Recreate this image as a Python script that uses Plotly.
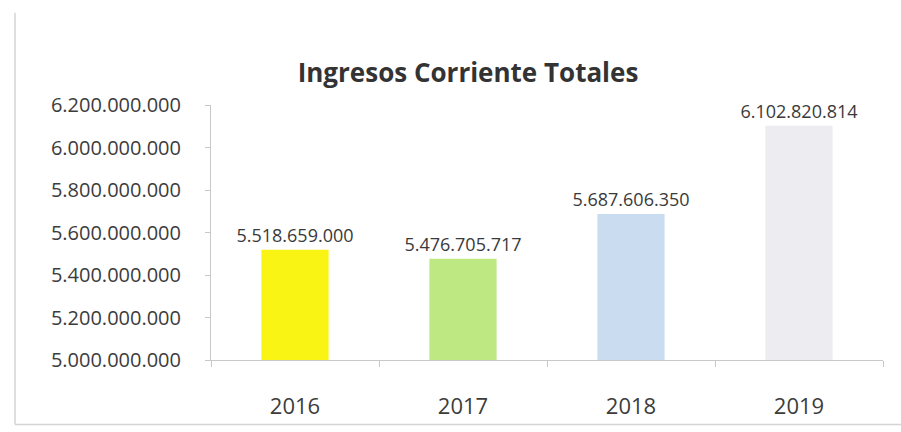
import plotly.graph_objects as go

# Ingresos corrientes totales por año
years = ["2016", "2017", "2018", "2019"]
ingresos = [5518659000, 5476705717, 5687606350, 6102820814]
bar_colors = ["#f9f414", "#bde882", "#cadcf0", "#ececf1"]
y_ticks = [5000000000, 5200000000, 5400000000, 5600000000, 5800000000, 6000000000, 6200000000]

FONT = "Open Sans, Liberation Sans, Arial, sans-serif"

W, H = 901, 432
ml, mr, mt, mb = 211, 18, 105, 70
pw, ph = W - ml - mr, H - mt - mb

fig = go.Figure(
    go.Bar(
        x=years,
        y=ingresos,
        marker=dict(color=bar_colors, line=dict(width=0)),
        width=0.4,
        texttemplate="%{y:,.0f}",
        textposition="outside",
        constraintext="none",
        cliponaxis=False,
        textfont=dict(family=FONT, size=18, color="#3a3a3a"),
    )
)

# light frame of the chart area (left and bottom edges)
def px_x(x):
    return (x - ml) / pw

def px_y(y):
    return (H - mb - y) / ph

for x0, y0, x1, y1 in [(15, 12, 15, 427), (15, 427, 901, 427)]:
    fig.add_shape(
        type="line", xref="paper", yref="paper",
        x0=px_x(x0), y0=px_y(y0), x1=px_x(x1), y1=px_y(y1),
        line=dict(color="#d4d4d4", width=1.5),
    )

fig.update_layout(
    width=W,
    height=H,
    margin=dict(l=ml, r=mr, t=mt, b=mb),
    paper_bgcolor="white",
    plot_bgcolor="white",
    separators=",.",
    showlegend=False,
    title=dict(
        text="<b>Ingresos Corriente Totales</b>",
        x=468 / W,
        xanchor="center",
        y=1 - 73 / H,
        yanchor="middle",
        font=dict(family=FONT, size=26, color="#333333"),
    ),
    bargap=0.6,
)

fig.update_yaxes(
    range=[5000000000, 6200000000],
    tickvals=y_ticks,
    tickformat=",.0f",
    showgrid=False,
    zeroline=False,
    showline=True,
    linecolor="#c8c8c8",
    linewidth=1,
    ticks="outside",
    ticklen=5,
    tickcolor="#c8c8c8",
    ticklabelstandoff=20,
    tickfont=dict(family=FONT, size=20, color="#3c3c3c"),
)

fig.update_xaxes(
    type="category",
    showgrid=False,
    showline=True,
    linecolor="#c8c8c8",
    linewidth=1,
    ticks="outside",
    tickson="boundaries",
    ticklen=6,
    tickcolor="#c8c8c8",
    ticklabelstandoff=27,
    tickfont=dict(family=FONT, size=22, color="#3c3c3c"),
)

fig.write_html("out.html")
